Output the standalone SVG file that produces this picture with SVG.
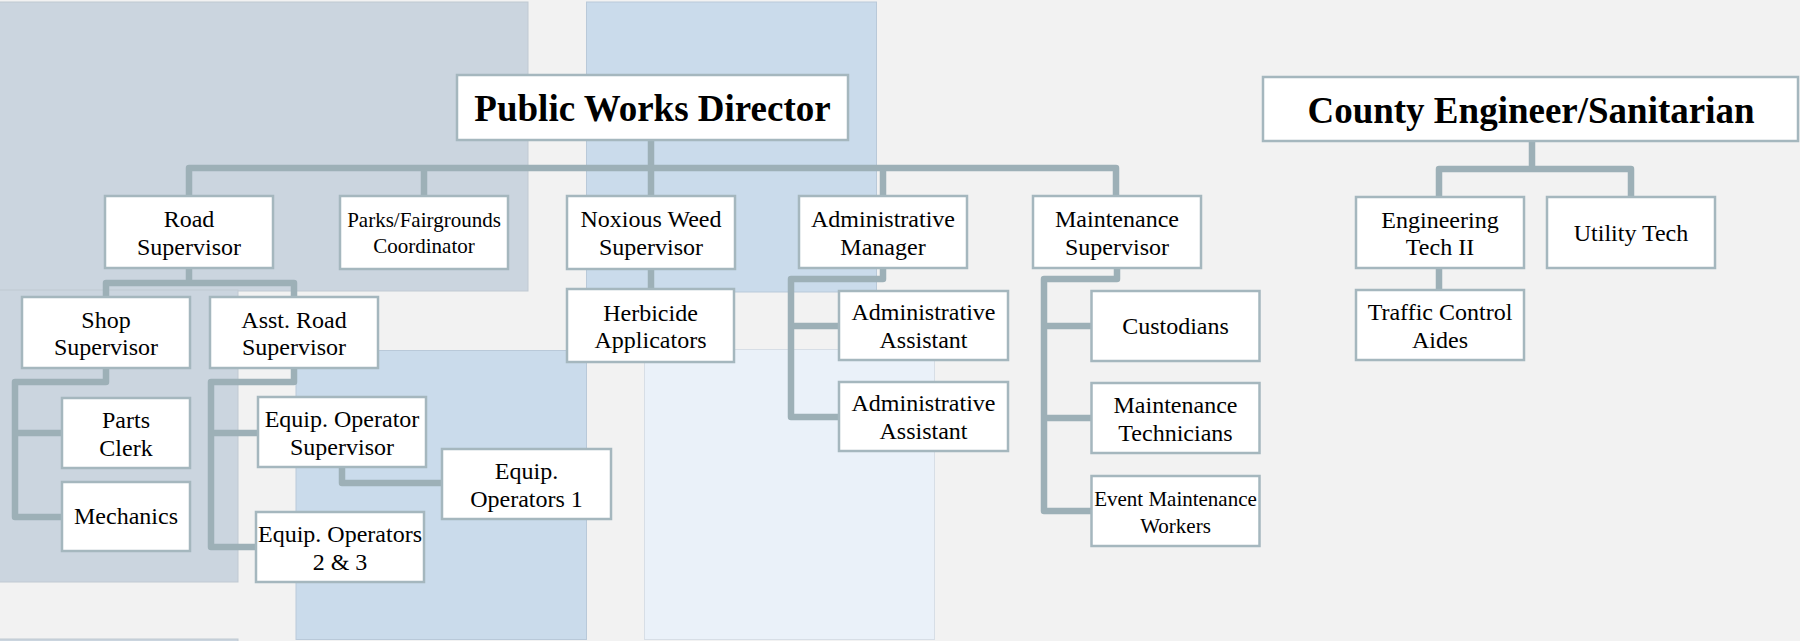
<svg xmlns="http://www.w3.org/2000/svg" width="1800" height="641" viewBox="0 0 1800 641">
<style>
.bg{fill:#f2f2f2}
.pg{fill:#cbd5df;stroke:#c0c9d2;stroke-width:1}
.pb{fill:#cadbeb;stroke:#b9c9d9;stroke-width:1}
.pl{fill:#eaf1f9;stroke:#d7dee6;stroke-width:1}
.box{fill:#ffffff;stroke:#a5b7be;stroke-width:2.5}
.con{fill:none;stroke:#9db0b7;stroke-width:6.5;stroke-linejoin:round;stroke-linecap:butt}
text{font-family:"Liberation Serif","Times New Roman",serif;fill:#000;text-anchor:middle}
.t{font-size:24px}
.s{font-size:21px}
.h{font-size:37px;font-weight:bold}
</style>
<rect class="bg" x="0" y="0" width="1800" height="641"/>
<g id="panels">
<rect class="pg" x="-1" y="2" width="529" height="289"/>
<rect class="pg" x="-1" y="290" width="239" height="292"/>
<rect class="pg" x="-1" y="639" width="239" height="4"/>
<rect class="pb" x="586.5" y="2" width="290" height="290"/>
<rect class="pb" x="296" y="350.5" width="290.5" height="289"/>
<rect class="pl" x="644.5" y="349.5" width="290" height="290"/>
</g>
<g id="connectors">
<path class="con" d="M189,196 V168 H1116 V196 M424,168 V196 M651,140 V196 M883,168 V196"/>
<path class="con" d="M189,268 V283 M106,297 V283 H294 V297"/>
<path class="con" d="M106,368 V382 H15 V517 H62 M15,433 H62"/>
<path class="con" d="M294,368 V382 H211 V547 H256 M211,433 H258"/>
<path class="con" d="M342,467 V483 H442"/>
<path class="con" d="M651,268 V289"/>
<path class="con" d="M883,268 V279 H791 V417 H839 M791,326 H839"/>
<path class="con" d="M1117,268 V279 H1044 V511 H1091 M1044,326 H1091 M1044,418 H1091"/>
<path class="con" d="M1532,141 V169 M1439,197 V169 H1631 V197 M1439,268 V290"/>
</g>
<g id="n-pwd"><rect class="box" x="457" y="75" width="391" height="65"/><text class="h" x="652.5" y="120.5">Public Works Director</text></g>
<g id="n-county"><rect class="box" x="1263" y="77" width="535" height="64"/><text class="h" x="1531" y="123">County Engineer/Sanitarian</text></g>
<g id="n-road"><rect class="box" x="105" y="196" width="168" height="72"/><text class="t" x="189" y="227">Road</text><text class="t" x="189" y="254.5">Supervisor</text></g>
<g id="n-parks"><rect class="box" x="340" y="196" width="168" height="73"/><text class="s" x="424" y="226.5">Parks/Fairgrounds</text><text class="s" x="424" y="253">Coordinator</text></g>
<g id="n-noxious"><rect class="box" x="567" y="196" width="168" height="73"/><text class="t" x="651" y="227">Noxious Weed</text><text class="t" x="651" y="254.5">Supervisor</text></g>
<g id="n-adminmgr"><rect class="box" x="799" y="196" width="168" height="72"/><text class="t" x="883" y="227">Administrative</text><text class="t" x="883" y="254.5">Manager</text></g>
<g id="n-maint"><rect class="box" x="1033" y="196" width="168" height="72"/><text class="t" x="1117" y="227">Maintenance</text><text class="t" x="1117" y="254.5">Supervisor</text></g>
<g id="n-engtech"><rect class="box" x="1356" y="197" width="168" height="71"/><text class="t" x="1440" y="227.5">Engineering</text><text class="t" x="1440" y="255">Tech II</text></g>
<g id="n-utility"><rect class="box" x="1547" y="197" width="168" height="71"/><text class="t" x="1631" y="240.5">Utility Tech</text></g>
<g id="n-traffic"><rect class="box" x="1356" y="290" width="168" height="70"/><text class="t" x="1440" y="320">Traffic Control</text><text class="t" x="1440" y="347.5">Aides</text></g>
<g id="n-herbicide"><rect class="box" x="567" y="289" width="167" height="73"/><text class="t" x="650.5" y="320.5">Herbicide</text><text class="t" x="650.5" y="348">Applicators</text></g>
<g id="n-adminasst1"><rect class="box" x="839" y="291" width="169" height="69"/><text class="t" x="923.5" y="320">Administrative</text><text class="t" x="923.5" y="347.5">Assistant</text></g>
<g id="n-adminasst2"><rect class="box" x="839" y="382" width="169" height="69"/><text class="t" x="923.5" y="411">Administrative</text><text class="t" x="923.5" y="438.5">Assistant</text></g>
<g id="n-custodians"><rect class="box" x="1091.5" y="291" width="168" height="70"/><text class="t" x="1175.5" y="334">Custodians</text></g>
<g id="n-mainttech"><rect class="box" x="1091.5" y="383" width="168" height="70"/><text class="t" x="1175.5" y="413">Maintenance</text><text class="t" x="1175.5" y="440.5">Technicians</text></g>
<g id="n-event"><rect class="box" x="1091.5" y="476" width="168" height="70"/><text class="s" x="1175.5" y="506">Event Maintenance</text><text class="s" x="1175.5" y="532.5">Workers</text></g>
<g id="n-shop"><rect class="box" x="22" y="297" width="168" height="71"/><text class="t" x="106" y="327.5">Shop</text><text class="t" x="106" y="355">Supervisor</text></g>
<g id="n-asstroad"><rect class="box" x="210" y="297" width="168" height="71"/><text class="t" x="294" y="327.5">Asst. Road</text><text class="t" x="294" y="355">Supervisor</text></g>
<g id="n-parts"><rect class="box" x="62" y="398" width="128" height="70"/><text class="t" x="126" y="428">Parts</text><text class="t" x="126" y="455.5">Clerk</text></g>
<g id="n-mechanics"><rect class="box" x="62" y="482" width="128" height="69"/><text class="t" x="126" y="524">Mechanics</text></g>
<g id="n-eqopsup"><rect class="box" x="258" y="397" width="168" height="70"/><text class="t" x="342" y="427">Equip. Operator</text><text class="t" x="342" y="454.5">Supervisor</text></g>
<g id="n-eqops1"><rect class="box" x="442" y="449" width="169" height="70"/><text class="t" x="526.5" y="479">Equip.</text><text class="t" x="526.5" y="506.5">Operators 1</text></g>
<g id="n-eqops23"><rect class="box" x="256" y="512" width="168" height="70"/><text class="t" x="340" y="542">Equip. Operators</text><text class="t" x="340" y="569.5">2 &amp; 3</text></g>
</svg>
